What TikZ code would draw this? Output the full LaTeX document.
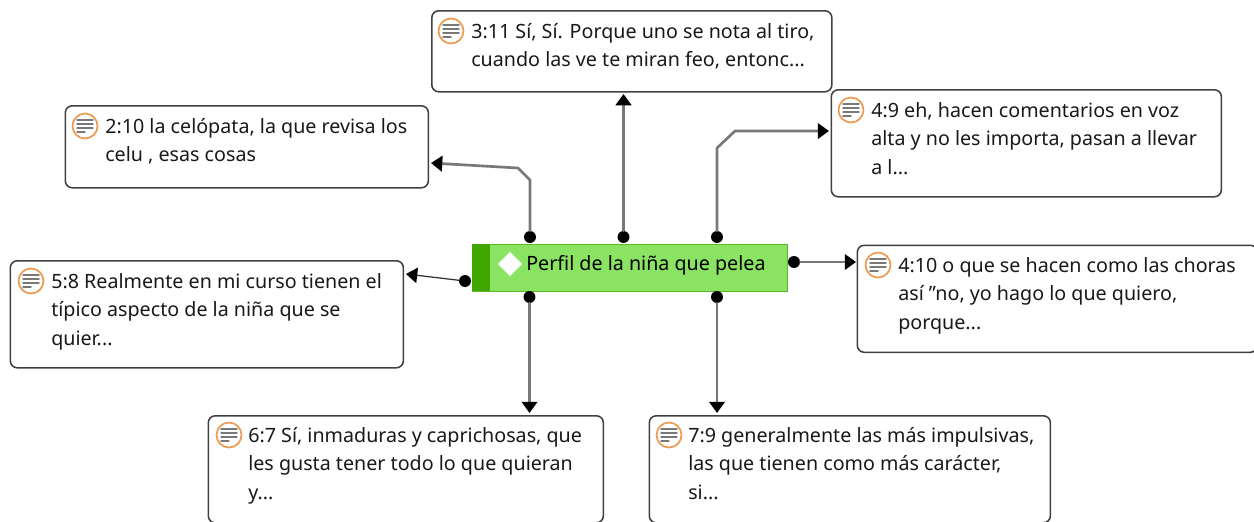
\documentclass[tikz,border=0pt]{standalone}
\usepackage{fontspec}
\setmainfont{Noto Sans}
\usetikzlibrary{arrows.meta}
\usetikzlibrary{shapes.geometric}
\definecolor{linkgray}{rgb}{0.47,0.47,0.47}
\definecolor{boxgray}{rgb}{0.25,0.25,0.25}
\definecolor{iconorange}{rgb}{0.93,0.60,0.31}
\definecolor{codegreen}{rgb}{0.54,0.89,0.39}
\definecolor{codedark}{rgb}{0.25,0.65,0.0}
\definecolor{codeedge}{rgb}{0.36,0.72,0.16}
\tikzset{
  quotebox/.style={draw=boxgray,line width=1.1pt,rounded corners=5pt,fill=white,inner sep=0pt,anchor=north west},
  quotetext/.style={anchor=north west,inner sep=0pt,align=left,text=black!90,font=\fontsize{14}{20.2}\selectfont},
  linkpin/.style={circle,fill=black,inner sep=0pt,minimum size=8.5pt},
  link/.style={draw=linkgray,line width=1.9pt,-{Triangle[length=8pt,width=11pt,color=black]}},
  noteicon/.pic={
    \draw[iconorange,line width=1.2pt,fill=white] (0,0) circle (12.5);
    \foreach \ly/\lw in {-6/8,-2/8,2/8,6/4}
      \draw[linkgray,line width=1pt] (-8,\ly) -- (-8+2*\lw,\ly);
  }
}
\begin{document}
\begin{tikzpicture}[line cap=round,line join=round,x=0.025cm,y=-0.025cm]
\useasboundingbox (0,0) rectangle (1254,521);
\clip (0,0) rectangle (1254,521);

\node[quotebox,minimum width=10cm,minimum height=2.025cm] (q311) at (431,10) {};
\node[quotebox,minimum width=9.075cm,minimum height=2.05cm] (q210) at (64.5,105) {};
\node[quotebox,minimum width=9.75cm,minimum height=2.675cm] (q49) at (830.5,89) {};
\node[quotebox,minimum width=9.825cm,minimum height=2.675cm] (q58) at (9.5,260) {};
\node[quotebox,minimum width=10cm,minimum height=2.675cm] (q410) at (856.5,244.5) {};
\node[quotebox,minimum width=9.875cm,minimum height=2.675cm] (q67) at (207.5,415) {};
\node[quotebox,minimum width=10.025cm,minimum height=2.675cm] (q79) at (648.5,415) {};

\pic at (451,31) {noteicon};
\pic at (85,126) {noteicon};
\pic at (851,110) {noteicon};
\pic at (31,281) {noteicon};
\pic at (878,265) {noteicon};
\pic at (229,435) {noteicon};
\pic at (669,435) {noteicon};

\node[quotetext] (t311) at (471,23) {3:11 Sí, Sí. Porque uno se nota al tiro,\\cuando las ve te miran feo, entonc...};
\node[quotetext] (t210) at (105,118) {2:10 la celópata, la que revisa los\\celu , esas cosas};
\node[quotetext] (t49) at (871,102) {4:9 eh, hacen comentarios en voz\\alta y no les importa, pasan a llevar\\a l...};
\node[quotetext] (t58) at (51,273) {5:8 Realmente en mi curso tienen el\\típico aspecto de la niña que se\\quier...};
\node[quotetext] (t410) at (898,257) {4:10 o que se hacen como las choras\\así "no, yo hago lo que quiero,\\porque...};
\node[quotetext] (t67) at (248,427) {6:7 Sí, inmaduras y caprichosas, que\\les gusta tener todo lo que quieran\\y...};
\node[quotetext] (t79) at (688,427) {7:9 generalmente las más impulsivas,\\las que tienen como más carácter,\\si...};

\node[draw=codeedge,line width=0.8pt,fill=codegreen,anchor=north west,inner sep=0pt,minimum width=7.875cm,minimum height=1.175cm] (code) at (472,244) {};
\fill[codedark] (472,244) rectangle (490,291);
\node[diamond,fill=white,draw=codegreen!60!white,inner sep=0pt,minimum size=0.62cm] (codemark) at (510,264) {};
\node[quotetext,anchor=west,text=black] (codetext) at (526,265) {Perfil de la niña que pelea};

\node[linkpin] (p210) at (530,237) {};
\node[linkpin] (p311) at (623.5,237) {};
\node[linkpin] (p49) at (717,237) {};
\node[linkpin] (p410) at (794,262) {};
\node[linkpin] (p58) at (465,281) {};
\node[linkpin] (p67) at (529.5,297) {};
\node[linkpin] (p79) at (717,297) {};

\coordinate (e210) at (431,163);
\coordinate (e311) at (623.5,94);
\coordinate (e49) at (829,131);
\coordinate (e410) at (856,262);
\coordinate (e58) at (406,274);
\coordinate (e67) at (529.5,413);
\coordinate (e79) at (717,413);

\draw[link] (p210) -- (530,180) -- (518,168) -- (e210);
\draw[link] (p311) -- (e311);
\draw[link] (p49) -- (717,148) -- (735,131) -- (e49);
\draw[link] (p410) -- (e410);
\draw[link,draw=black!80,line width=0.9pt] (p58) -- (e58);
\draw[link] (p67) -- (e67);
\draw[link] (p79) -- (e79);
\end{tikzpicture}
\end{document}
